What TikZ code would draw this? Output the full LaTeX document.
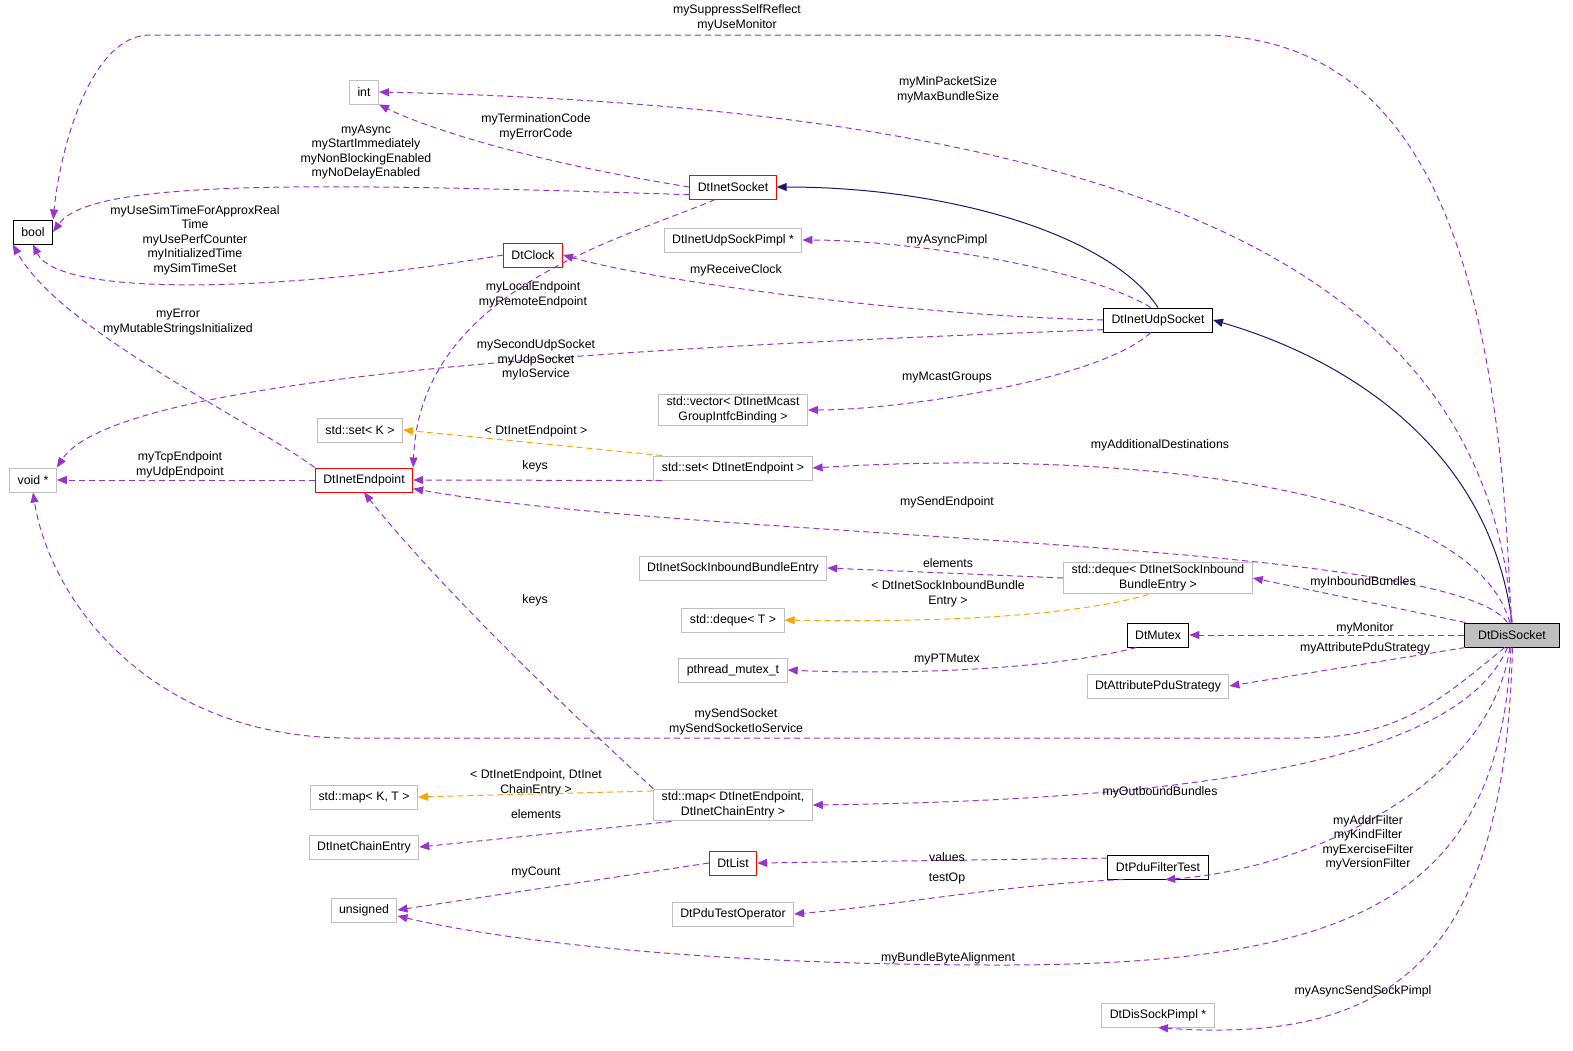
\documentclass[tikz,border=0pt]{standalone}
\usepackage{fontspec}
\setmainfont{Liberation Sans}
\usetikzlibrary{arrows.meta}
\definecolor{edgepurple}{HTML}{9A32CD}
\definecolor{tmplorange}{HTML}{FFA500}
\definecolor{inhnavy}{HTML}{191970}
\definecolor{boxgray}{HTML}{BFBFBF}
\begin{document}
\begin{tikzpicture}[x=1pt, y=-1pt, font=\fontsize{12.3}{14.5}\selectfont, line width=1pt]
\tikzstyle{cls}=[draw,rectangle,fill=white,minimum height=24pt,inner xsep=8pt,inner ysep=3pt,align=center]
\tikzstyle{ext}=[cls,draw=boxgray]
\tikzstyle{red}=[cls,draw=red]
\tikzstyle{doc}=[cls,draw=black]
\tikzstyle{dep}=[draw=edgepurple,dash pattern=on 6pt off 4pt,-{Triangle[length=10pt,width=8pt]},fill=none]
\tikzstyle{tpl}=[dep,draw=tmplorange]
\tikzstyle{inh}=[draw=inhnavy,solid,-{Triangle[length=10pt,width=8pt]}]
\tikzstyle{lbl}=[align=center,inner sep=0pt]
\useasboundingbox (0,0) rectangle (1573,1050);
  % classes
  \foreach \place/\name/\txt in {{(33,232)/bool/bool},
                                 {(1158,320)/udp/DtInetUdpSocket},
                                 {(1158,635)/mutex/DtMutex},
                                 {(1158,867)/filter/DtPduFilterTest}}
    \node[doc] (\name) at \place {\txt};
  \foreach \place/\name/\txt in {{(733,187)/sock/DtInetSocket},
                                 {(533,255)/clock/DtClock},
                                 {(364,480)/endp/DtInetEndpoint},
                                 {(733,863)/list/DtList}}
    \node[red] (\name) at \place {\txt};
  \foreach \place/\name/\txt in {{(364,92)/int/int},
                                 {(33,480)/void/void *},
                                 {(733,240)/pimpl/DtInetUdpSockPimpl *},
                                 {(733,410)/vec/std::vector< DtInetMcast\\GroupIntfcBinding >},
                                 {(360,430)/setk/std::set< K >},
                                 {(733,468)/setep/std::set< DtInetEndpoint >},
                                 {(733,568)/inbentry/DtInetSockInboundBundleEntry},
                                 {(1158,578)/deque/std::deque< DtInetSockInbound\\BundleEntry >},
                                 {(733,620)/dequet/std::deque< T >},
                                 {(733,670)/pthread/pthread\_mutex\_t},
                                 {(1158,686)/attr/DtAttributePduStrategy},
                                 {(364,797)/mapkt/{std::map< K, T >}},
                                 {(733,805)/map/{std::map< DtInetEndpoint,\\DtInetChainEntry >}},
                                 {(364,847)/chain/DtInetChainEntry},
                                 {(364,910)/unsig/unsigned},
                                 {(733,914)/testop/DtPduTestOperator},
                                 {(1158,1015)/dispimpl/DtDisSockPimpl *}}
    \node[ext] (\name) at \place {\txt};
  \node[doc,fill=boxgray,minimum width=95pt] (dis) at (1512,635) {DtDisSocket};

  % inheritance
  \draw[inh] (udp.north) .. controls (1110,235) and (950,187) .. (sock.east);
  \draw[inh] (dis.north) .. controls (1490,450) and (1350,360) .. (udp.east);

  % usage
  \draw[dep] (dis.95) .. controls (1500,250) and (1420,35) .. (1200,35) -- (150,35) .. controls (90,35) and (60,150) .. (bool.north east);
  \draw[dep] (dis.90) .. controls (1490,300) and (1200,110) .. (int.east);
  \draw[dep] (sock.west) .. controls (520,160) and (420,125) .. (int.south east);
  \draw[dep] (sock.190) .. controls (300,182) and (90,180) .. (bool.east);
  \draw[dep] (sock.215) .. controls (620,240) and (420,290) .. (endp.north east);
  \draw[dep] (clock.west) .. controls (300,290) and (60,300) .. (bool.south);
  \draw[dep] (udp.120) .. controls (1080,265) and (900,240) .. (pimpl.east);
  \draw[dep] (udp.west) .. controls (900,315) and (650,280) .. (clock.east);
  \draw[dep] (udp.190) .. controls (700,345) and (120,370) .. (void.north east);
  \draw[dep] (udp.240) .. controls (1100,380) and (900,410) .. (vec.east);
  \draw[dep] (endp.north west) .. controls (250,420) and (60,330) .. (bool.south west);
  \draw[dep] (endp.west) -- (void.east);
  \draw[tpl] (setep.170) -- (setk.east);
  \draw[dep] (setep.190) -- (endp.east);
  \draw[dep] (dis.100) .. controls (1470,480) and (1100,450) .. (setep.east);
  \draw[dep] (dis.110) .. controls (1450,540) and (700,540) .. (endp.-10);
  \draw[dep] (deque.west) -- (inbentry.east);
  \draw[tpl] (deque.-120) .. controls (1060,620) and (900,622) .. (dequet.east);
  \draw[dep] (dis.165) -- (deque.east);
  \draw[dep] (dis.west) -- (mutex.east);
  \draw[dep] (mutex.-150) .. controls (1050,670) and (900,675) .. (pthread.east);
  \draw[dep] (dis.195) -- (attr.east);
  \draw[dep] (dis.240) .. controls (1440,700) and (1400,738) .. (1300,738) -- (350,738) .. controls (150,738) and (50,600) .. (void.south);
  \draw[dep] (map.north west) .. controls (600,740) and (450,600) .. (endp.south);
  \draw[tpl] (map.170) -- (mapkt.east);
  \draw[dep] (map.195) -- (chain.east);
  \draw[dep] (dis.250) .. controls (1460,760) and (1200,800) .. (map.east);
  \draw[dep] (filter.170) -- (list.east);
  \draw[dep] (filter.200) .. controls (1000,885) and (900,905) .. (testop.east);
  \draw[dep] (list.west) -- (unsig.east);
  \draw[dep] (dis.260) .. controls (1490,790) and (1300,870) .. (filter.-60);
  \draw[dep] (dis.265) .. controls (1500,900) and (1350,965) .. (1000,965) .. controls (700,965) and (500,940) .. (unsig.-10);
  \draw[dep] (dis.-88) .. controls (1505,950) and (1400,1045) .. (dispimpl.south);

  % labels
  \foreach \place/\name/\txt in {{(737,18)/lsupp/mySuppressSelfReflect\\myUseMonitor},
                                 {(948,90)/lsize/myMinPacketSize\\myMaxBundleSize},
                                 {(536,127)/lcode/myTerminationCode\\myErrorCode},
                                 {(366,152)/lasync/myAsync\\myStartImmediately\\myNonBlockingEnabled\\myNoDelayEnabled},
                                 {(195,240)/lsim/myUseSimTimeForApproxReal\\Time\\myUsePerfCounter\\myInitializedTime\\mySimTimeSet},
                                 {(947,240)/lapimpl/myAsyncPimpl},
                                 {(736,270)/lclock/myReceiveClock},
                                 {(533,295)/lendp/myLocalEndpoint\\myRemoteEndpoint},
                                 {(178,322)/lerr/myError\\myMutableStringsInitialized},
                                 {(536,360)/lio/mySecondUdpSocket\\myUdpSocket\\myIoService},
                                 {(947,377)/lmcast/myMcastGroups},
                                 {(536,431)/ltset/< DtInetEndpoint >},
                                 {(1160,445)/ladd/myAdditionalDestinations},
                                 {(180,465)/ltcp/myTcpEndpoint\\myUdpEndpoint},
                                 {(535,466)/lkeys/keys},
                                 {(947,502)/lsend/mySendEndpoint},
                                 {(948,563)/lelem/elements},
                                 {(948,594)/ltdeq/< DtInetSockInboundBundle\\Entry >},
                                 {(535,600)/lkeysb/keys},
                                 {(1363,582)/linb/myInboundBundles},
                                 {(1365,628)/lmon/myMonitor},
                                 {(1365,648)/lattr/myAttributePduStrategy},
                                 {(947,660)/lpt/myPTMutex},
                                 {(736,722)/lssock/mySendSocket\\mySendSocketIoService},
                                 {(536,783)/ltmap/{< DtInetEndpoint, DtInet\\ChainEntry >}},
                                 {(1160,792)/lout/myOutboundBundles},
                                 {(536,814)/lelemb/elements},
                                 {(1368,843)/lfilt/myAddrFilter\\myKindFilter\\myExerciseFilter\\myVersionFilter},
                                 {(947,857)/lval/values},
                                 {(536,872)/lcount/myCount},
                                 {(947,878)/ltest/testOp},
                                 {(948,958)/lalign/myBundleByteAlignment},
                                 {(1363,991)/lasp/myAsyncSendSockPimpl}}
    \node[lbl] (\name) at \place {\txt};
\end{tikzpicture}
\end{document}
